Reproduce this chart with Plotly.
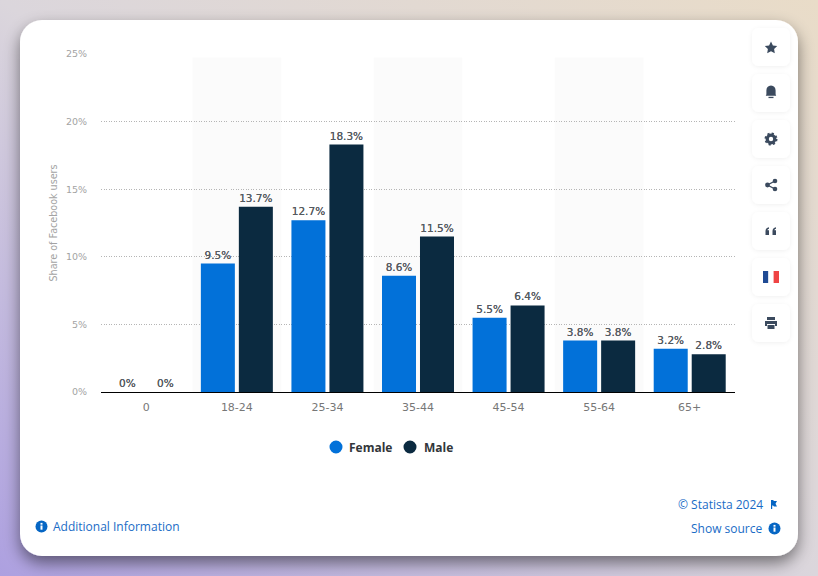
"""Facebook users by age and gender, drawn as a Statista style card."""
import base64

import plotly.graph_objects as go

AGE_GROUPS = ["0", "18-24", "25-34", "35-44", "45-54", "55-64", "65+"]
FEMALE = [0, 9.5, 12.7, 8.6, 5.5, 3.8, 3.2]
MALE = [0, 13.7, 18.3, 11.5, 6.4, 3.8, 2.8]
Y_TICKS = [0, 5, 10, 15, 20, 25]
BANDED = ["18-24", "35-44", "55-64"]

BLUE = "#0271d9"
NAVY = "#0b2a40"
LINK = "#1a6cc6"
ICON = "#3b4a5e"

W, H = 818, 576
PLOT_L, PLOT_R, PLOT_T, PLOT_B = 101, 735, 54, 392


def px_x(x):
    return (x - PLOT_L) / (PLOT_R - PLOT_L)


def px_y(y):
    return (PLOT_B - y) / (PLOT_B - PLOT_T)


def tile(y):
    return (
        f'<rect x="752" y="{y}" width="38" height="38" rx="7" fill="#fff" '
        'filter="url(#soft)"/>'
    )


def info_icon(cx, cy):
    return (
        f'<circle cx="{cx}" cy="{cy}" r="6" fill="#0666c4"/>'
        f'<rect x="{cx - 1}" y="{cy - 1}" width="2" height="4.2" fill="#fff"/>'
        f'<rect x="{cx - 1}" y="{cy - 3.6}" width="2" height="1.8" fill="#fff"/>'
    )


# page backdrop, card and the toolbar are only decoration, so one svg covers them
BACKDROP = f"""<svg xmlns="http://www.w3.org/2000/svg" width="{W}" height="{H}" viewBox="0 0 {W} {H}">
<defs>
<linearGradient id="bg" x1="0" y1="1" x2="1" y2="0">
<stop offset="0" stop-color="#ada0e0"/><stop offset="0.5" stop-color="#dbd6dc"/>
<stop offset="1" stop-color="#e9dcc8"/></linearGradient>
<filter id="shadow" x="-10%" y="-10%" width="120%" height="125%">
<feDropShadow dx="0" dy="7" stdDeviation="8" flood-color="#000" flood-opacity="0.48"/></filter>
<filter id="soft" x="-30%" y="-30%" width="160%" height="160%">
<feDropShadow dx="0" dy="1" stdDeviation="2" flood-color="#000" flood-opacity="0.06"/></filter>
</defs>
<rect width="{W}" height="{H}" fill="url(#bg)"/>
<rect x="20" y="20" width="778" height="536" rx="22" fill="#fff" filter="url(#shadow)"/>
{''.join(tile(y) for y in (28, 74, 120, 166, 212, 258, 304))}
<path d="M771 41.5l1.9 3.9 4.3.6-3.1 3 .7 4.3-3.8-2-3.8 2 .7-4.3-3.1-3 4.3-.6z" fill="{ICON}"/>
<path d="M771 85.5c-3 0-4.6 2.2-4.6 5v3.8l-.6 1.5h10.4l-.6-1.5v-3.8c0-2.8-1.6-5-4.6-5z" fill="{ICON}"/>
<rect x="768.5" y="96.8" width="5" height="1.3" fill="{ICON}"/>
<circle cx="771" cy="139" r="3.8" fill="none" stroke="{ICON}" stroke-width="3.2"/>
<circle cx="771" cy="139" r="5.6" fill="none" stroke="{ICON}" stroke-width="1.8" stroke-dasharray="2.2 2.2"/>
<path d="M775 181l-7.5 4 7.5 4" fill="none" stroke="{ICON}" stroke-width="1.4"/>
<circle cx="775" cy="181" r="2.3" fill="{ICON}"/><circle cx="767.5" cy="185" r="2.4" fill="{ICON}"/>
<circle cx="775" cy="189" r="2.3" fill="{ICON}"/>
<path d="M765.5 235v-4c0-2 1.2-3.400 3.500-3.800v1.600c-1 .2-1.500 .8-1.500 1.500h1.500v4.700z M772.500 235v-4c0-2 1.200-3.400 3.500-3.800v1.600c-1 .2-1.500 .8-1.500 1.500h1.500v4.700z" fill="{ICON}"/>
<rect x="763" y="271" width="5.4" height="12" fill="#1f4a94"/>
<rect x="768.4" y="271" width="5.2" height="12" fill="#fff"/>
<rect x="773.6" y="271" width="5.4" height="12" fill="#ef4444"/>
<path d="M767 317h8v3h-8z M765 321h12v5h-2v-2h-8v2h-2z M767.5 325h7v4h-7z" fill="{ICON}"/>
{info_icon(41.5, 526.5)}{info_icon(774.5, 528.5)}
<path d="M771 500v9h1.200v-3.600h.8l1 1h3l-1.500-2.600 1.500-2.800h-3l-1-1z" fill="#0666c4"/>
</svg>"""

fig = go.Figure()
# plain text lists: a %{y} template would pick up the axis ticktext and double the % sign
fig.add_bar(x=AGE_GROUPS, y=FEMALE, name="Female", marker_color=BLUE, text=[f"{v}%" for v in FEMALE])
fig.add_bar(x=AGE_GROUPS, y=MALE, name="Male", marker_color=NAVY, text=[f"{v}%" for v in MALE])
fig.update_traces(
    textposition="outside",
    textfont=dict(family="DejaVu Sans", size=10.5, color="#555a60", shadow="0 0 0.6px #555a60"),
    cliponaxis=False,
    marker_line_width=0,
    showlegend=False,
)

for group in BANDED:
    i = AGE_GROUPS.index(group)
    fig.add_shape(
        type="rect", xref="x", yref="paper", x0=i - 0.49, x1=i + 0.49, y0=0, y1=0.99,
        fillcolor="#fbfbfb", line_width=0, layer="below",
    )

# legend is built by hand, the native one cannot keep the text this close to the dot
for x, color in ((336, BLUE), (410, NAVY)):
    fig.add_shape(
        type="circle", xref="paper", yref="paper",
        x0=px_x(x - 6.5), x1=px_x(x + 6.5), y0=px_y(447 + 6.5), y1=px_y(447 - 6.5),
        fillcolor=color, line_width=0,
    )


def label(text, x, y, anchor="left", size=12, color=LINK, weight="normal", family="Open Sans"):
    fig.add_annotation(
        text=text, xref="paper", yref="paper", x=px_x(x), y=px_y(y), xanchor=anchor,
        yanchor="middle", showarrow=False, borderpad=0,
        font=dict(family=family, size=size, color=color, weight=weight),
    )


label("Female", 348, 447.5, color="#32363a", weight="bold")
label("Male", 423, 447.5, color="#32363a", weight="bold")
label("Additional Information", 52, 526.5)
label("© Statista 2024", 764, 504.5, anchor="right")
label("Show source", 764, 528.5, anchor="right")

fig.update_layout(
    width=W,
    height=H,
    margin=dict(l=PLOT_L, r=W - PLOT_R, t=PLOT_T, b=H - PLOT_B, autoexpand=False),
    paper_bgcolor="rgba(0,0,0,0)",
    plot_bgcolor="rgba(0,0,0,0)",
    barmode="group",
    bargap=0.161,
    bargroupgap=0.105,
    images=[dict(
        source="data:image/svg+xml;base64," + base64.b64encode(BACKDROP.encode()).decode(),
        xref="paper", yref="paper", x=px_x(0), y=px_y(0),
        sizex=W / (PLOT_R - PLOT_L), sizey=H / (PLOT_B - PLOT_T),
        xanchor="left", yanchor="top", sizing="stretch", layer="below",
    )],
)
fig.update_xaxes(
    type="category",
    showline=True, linecolor="#000", linewidth=1,
    showgrid=False, ticks="outside", ticklen=5, tickcolor="rgba(0,0,0,0)",
    tickfont=dict(family="DejaVu Sans", size=11, color="#777"),
)
fig.update_yaxes(
    range=[0, 25], tickvals=Y_TICKS, ticktext=[f"{t}%" for t in Y_TICKS],
    showgrid=True, gridcolor="#b5b5b5", griddash="1px,1.5px", gridwidth=1, zeroline=False,
    ticks="outside", ticklen=11, tickcolor="rgba(0,0,0,0)",
    tickfont=dict(family="DejaVu Sans", size=9.5, color="#a3a3a3"),
    title=dict(text="Share of Facebook users", standoff=6,
               font=dict(family="DejaVu Sans", size=9.6, color="#a3a3a3")),
)

fig.write_html(
    "out.html",
    config={"displayModeBar": False},
    post_script="document.body.style.margin='0';document.body.style.overflow='hidden';",
)
